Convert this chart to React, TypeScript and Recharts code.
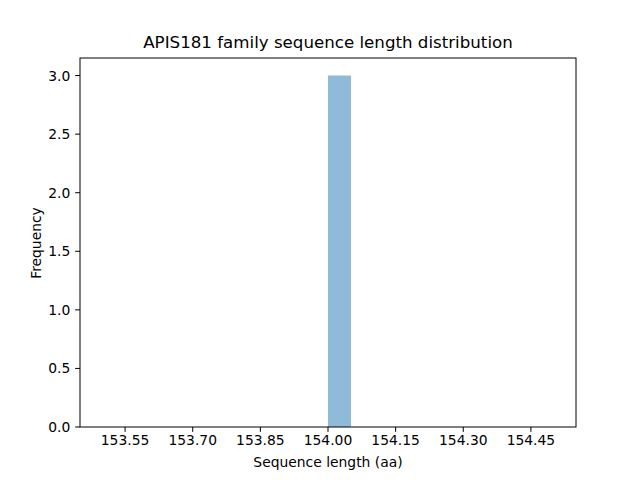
import React from 'react';
import { ComposedChart, Bar, XAxis, YAxis } from 'recharts';

const binCenters = [
  153.525, 153.575, 153.625, 153.675, 153.725, 153.775, 153.825, 153.875, 153.925, 153.975,
  154.025, 154.075, 154.125, 154.175, 154.225, 154.275, 154.325, 154.375, 154.425, 154.475,
];
const counts = [0, 0, 0, 0, 0, 0, 0, 0, 0, 0, 3, 0, 0, 0, 0, 0, 0, 0, 0, 0];
const xTicks = [153.55, 153.7, 153.85, 154.0, 154.15, 154.3, 154.45];
const yTicks = [0, 0.5, 1.0, 1.5, 2.0, 2.5, 3.0];

const data = binCenters.map((x, i) => ({ x, count: counts[i] }));

const font = 'DejaVu Sans, sans-serif';
const tickFont = 13.89;

export default function App() {
  return (
    <div style={{ position: 'absolute', left: 0, top: 0, width: 640, height: 480, background: '#fff', fontFamily: font }}>
      <ComposedChart
        width={640}
        height={480}
        data={data}
        margin={{ top: 58, right: 64, bottom: 23, left: 20 }}
        barCategoryGap={0}
        barGap={0}
      >
        <XAxis
          dataKey="x"
          type="number"
          domain={[153.45, 154.55]}
          ticks={xTicks}
          tickFormatter={(v: number) => v.toFixed(2)}
          height={30}
          axisLine={false}
          tickLine={{ stroke: '#000' }}
          tickSize={4.86}
          tickMargin={3.5}
          tick={{ fill: '#000', fontSize: tickFont, fontFamily: font }}
          allowDataOverflow
        />
        <YAxis
          type="number"
          domain={[0, 3.15]}
          ticks={yTicks}
          tickFormatter={(v: number) => v.toFixed(1)}
          width={60}
          axisLine={false}
          tickLine={{ stroke: '#000' }}
          tickSize={4.86}
          tickMargin={4.86}
          tick={{ fill: '#000', fontSize: tickFont, fontFamily: font }}
          allowDataOverflow
        />
        <Bar dataKey="count" fill="#8fbbd9" isAnimationActive={false} />
      </ComposedChart>
      <div
        style={{
          position: 'absolute', left: 80, top: 58, width: 497, height: 370,
          border: '1px solid #000', boxSizing: 'border-box', pointerEvents: 'none',
          transform: 'translate(-0.5px,-0.5px)',
        }}
      />
      <div style={{ position: 'absolute', left: 0, width: 656, top: 33, textAlign: 'center', fontSize: 16.67, lineHeight: '20px' }}>
        APIS181 family sequence length distribution
      </div>
      <div style={{ position: 'absolute', left: 0, width: 656, top: 454, textAlign: 'center', fontSize: tickFont, lineHeight: '16px' }}>
        Sequence length (aa)
      </div>
      <div
        style={{
          position: 'absolute', left: 36, top: 243, fontSize: tickFont, lineHeight: '16px', whiteSpace: 'nowrap',
          transform: 'translate(-50%,-50%) rotate(-90deg)',
        }}
      >
        Frequency
      </div>
    </div>
  );
}
